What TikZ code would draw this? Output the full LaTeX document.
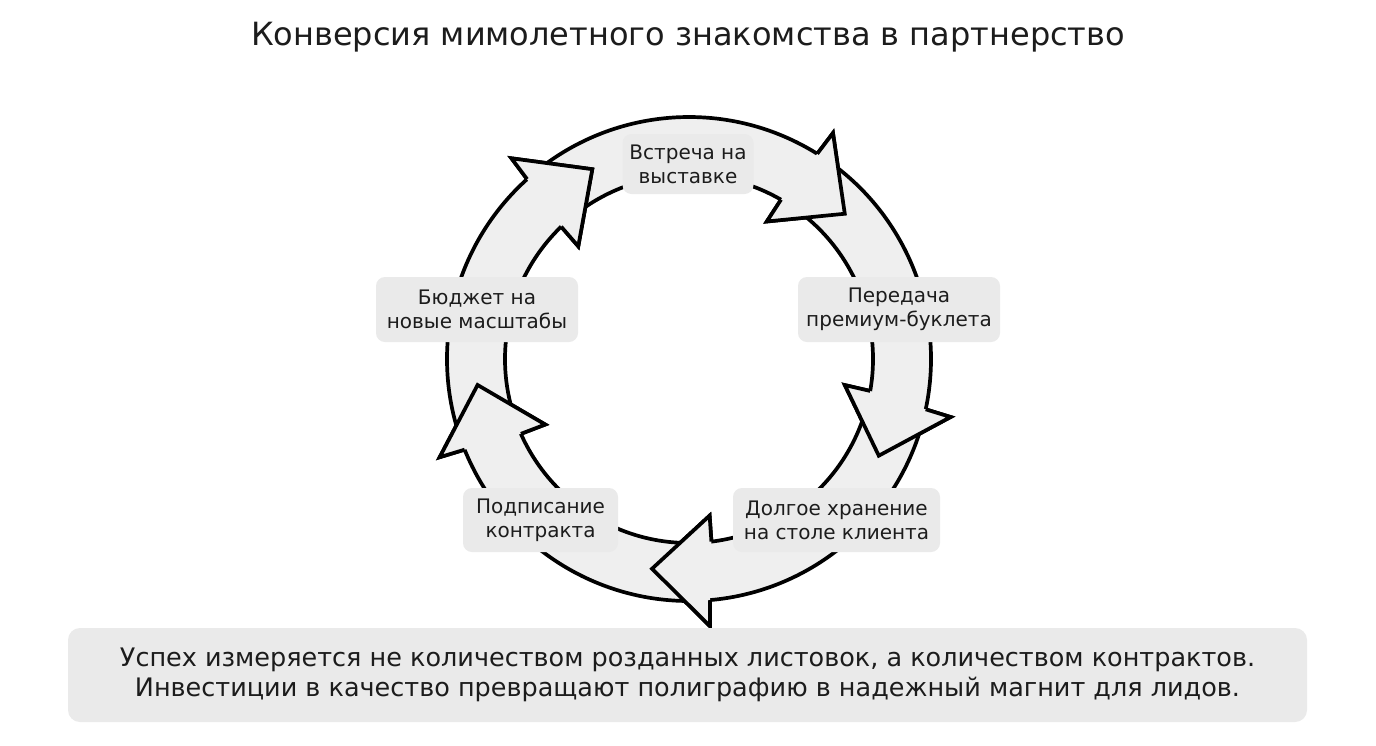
\documentclass[tikz,border=0pt]{standalone}
\usepackage{fontspec}
\setmainfont{DejaVu Sans}
\usetikzlibrary{calc}
\definecolor{arrowfill}{HTML}{EFEFEF}
\definecolor{boxfill}{HTML}{EAEAEA}
\definecolor{ink}{HTML}{1C1C1C}
\tikzset{
  ringarrow/.style={fill=arrowfill, draw=black, line width=3.7pt, line join=miter, miter limit=20},
  ringhead/.style={fill=arrowfill},
  ringedge/.style={draw=black, line width=3.7pt, line join=miter, miter limit=20},
  stagebox/.style={fill=boxfill, rounded corners=9pt, align=center, text=ink,
    font=\fontsize{20}{24}\selectfont, inner sep=0pt},
  notebox/.style={fill=boxfill, rounded corners=12pt, align=center, text=ink,
    font=\fontsize{25.5}{30.5}\selectfont, inner sep=0pt},
}
\begin{document}
\begin{tikzpicture}[x=1pt,y=1pt]
\useasboundingbox (0,0) rectangle (1376,-745);
\fill[white] (0,0) rectangle (1376,-745);
\coordinate (c) at (689,-359);

% bodies (tail to head)
\foreach \tip/\prev in {43/117, -27/43, -100/-27, -173/-100, -243/-173}{
  \pgfmathsetmacro{\tail}{\prev+11}
  \path[ringarrow] ($(c)+(\tail:242)$) arc[start angle=\tail, end angle=\tip+15, radius=242]
     -- ($(c)+(\tip+14.5:268)$) -- ($(c)+(\tip:213)$) -- ($(c)+(\tip+17.5:158)$)
     -- ($(c)+(\tip+17:184)$) arc[start angle=\tip+17, end angle=\tail, radius=184] -- cycle;
}
% heads on top of the following tails
\foreach \tip in {43, -27, -100, -173, -243}{
  \fill[ringhead] ($(c)+(\tip+15:242)$) -- ($(c)+(\tip+14.5:268)$) -- ($(c)+(\tip:213)$)
     -- ($(c)+(\tip+17.5:158)$) -- ($(c)+(\tip+17:184)$) -- cycle;
  \draw[ringedge] ($(c)+(\tip+15:242)$) -- ($(c)+(\tip+14.5:268)$) -- ($(c)+(\tip:213)$)
     -- ($(c)+(\tip+17.5:158)$) -- ($(c)+(\tip+17:184)$);
}

\node[anchor=base, text=ink, font=\fontsize{32}{38}\selectfont] (title) at (688,-45)
  {Конверсия мимолетного знакомства в партнерство};

\node[stagebox, minimum width=131, minimum height=60] (s1) at (688,-164) {Встреча на\\выставке};
\node[stagebox, minimum width=202, minimum height=65] (s2) at (899,-309.5) {Передача\\премиум-буклета};
\node[stagebox, minimum width=207, minimum height=64] (s3) at (836.5,-520) {Долгое хранение\\на столе клиента};
\node[stagebox, minimum width=155, minimum height=64] (s4) at (540.5,-520) {Подписание\\контракта};
\node[stagebox, minimum width=202, minimum height=65] (s5) at (477,-309.5) {Бюджет на\\новые масштабы};

\node[notebox, minimum width=1239, minimum height=94] (note) at (687.5,-675)
  {Успех измеряется не количеством розданных листовок, а количеством контрактов.\\
   Инвестиции в качество превращают полиграфию в надежный магнит для лидов.};
\end{tikzpicture}
\end{document}
